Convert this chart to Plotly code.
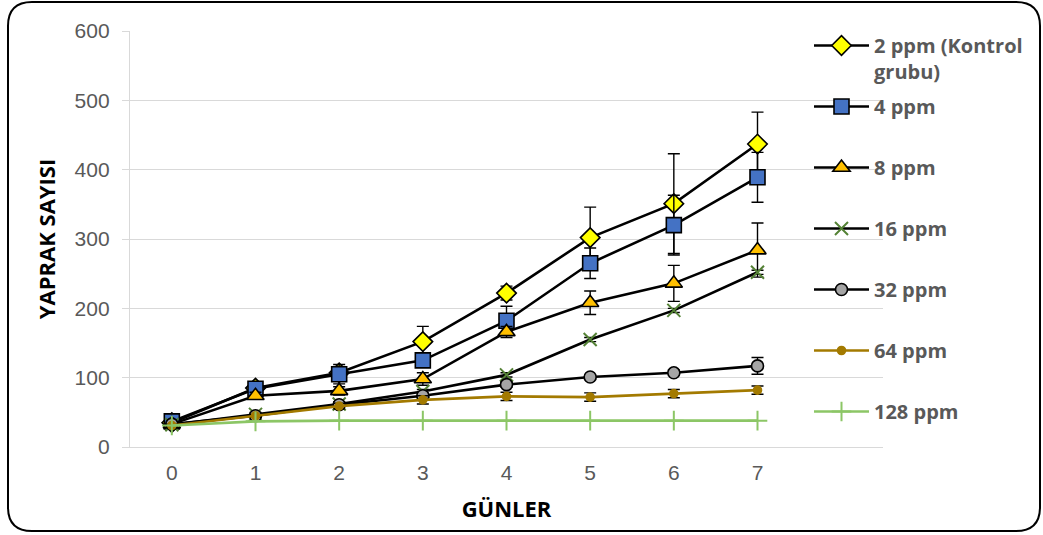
import plotly.graph_objects as go

# Days and leaf counts (mean ± error) for each concentration
days = [0, 1, 2, 3, 4, 5, 6, 7]

ppm2 = [35, 85, 107, 152, 222, 302, 351, 437]
ppm2_err = [3, 5, 5, 22, 10, 44, 72, 46]

ppm4 = [37, 84, 105, 125, 182, 265, 320, 389]
ppm4_err = [3, 8, 14, 6, 21, 22, 43, 36]

ppm8 = [33, 74, 81, 98, 166, 208, 236, 284]
ppm8_err = [3, 5, 6, 9, 8, 17, 26, 39]

ppm16 = [32, 47, 62, 80, 104, 155, 197, 252]
ppm16_err = [2, 3, 3, 3, 3, 3, 3, 3]

ppm32 = [33, 45, 61, 74, 90, 101, 107, 117]
ppm32_err = [2, 3, 4, 4, 4, 3, 4, 12]

ppm64 = [31, 45, 59, 68, 73, 72, 77, 82]
ppm64_err = [2, 2, 4, 6, 6, 6, 6, 6]

ppm128 = [31, 37, 38, 38, 38, 38, 38, 38]

y_ticks = [0, 100, 200, 300, 400, 500, 600]

W, H = 1043, 535
ML, MR, MT, MB = 130, 160, 31, 88
PW, PH = W - ML - MR, H - MT - MB


def px(x):
    return (x - ML) / PW


def py(y):
    return (H - MB - y) / PH


fig = go.Figure()


def add_series(name, y, err, symbol, size, fill, edge, line_color, legend):
    err_cfg = None
    if err is not None:
        err_cfg = dict(type="data", array=err, color="black", thickness=1.4, width=6)
    thin = symbol in ("x-thin", "cross-thin")
    fig.add_trace(go.Scatter(
        x=days, y=y, name=name, mode="lines+markers",
        line=dict(color=line_color, width=2.6),
        marker=dict(symbol=symbol, size=size, color=fill,
                    line=dict(color=edge, width=2 if thin else 1.6)),
        error_y=err_cfg, legend=legend, legendgroup=name,
    ))


add_series("2 ppm (Kontrol<br>grubu)", ppm2, ppm2_err, "diamond", 15, "#FFFF00", "black", "black", "legend")
add_series("4 ppm", ppm4, ppm4_err, "square", 15, "#4472C4", "black", "black", "legend2")
add_series("8 ppm", ppm8, ppm8_err, "triangle-up", 15, "#FFC000", "black", "black", "legend2")
add_series("16 ppm", ppm16, ppm16_err, "x-thin", 13, "#548235", "#548235", "black", "legend2")
add_series("32 ppm", ppm32, ppm32_err, "circle", 12, "#A5A5A5", "black", "black", "legend2")
add_series("64 ppm", ppm64, ppm64_err, "circle", 8, "#A37A00", "#A37A00", "#A37A00", "legend2")
add_series("128 ppm", ppm128, None, "cross-thin", 14, "#8CC666", "#8CC666", "#8CC666", "legend2")

legend_font = dict(family="Open Sans", size=20, color="#595959", weight="bold")

# Rounded outer frame of the chart, built in pixel space and mapped to paper
x0, y0, x1, y1, r = 8, 2, 1040, 531, 24
frame = (
    f"M {px(x0 + r)},{py(y0)} L {px(x1 - r)},{py(y0)} "
    f"Q {px(x1)},{py(y0)} {px(x1)},{py(y0 + r)} "
    f"L {px(x1)},{py(y1 - r)} Q {px(x1)},{py(y1)} {px(x1 - r)},{py(y1)} "
    f"L {px(x0 + r)},{py(y1)} Q {px(x0)},{py(y1)} {px(x0)},{py(y1 - r)} "
    f"L {px(x0)},{py(y0 + r)} Q {px(x0)},{py(y0)} {px(x0 + r)},{py(y0)} Z"
)

fig.update_layout(
    width=W, height=H,
    margin=dict(l=ML, r=MR, t=MT, b=MB),
    paper_bgcolor="white", plot_bgcolor="white",
    font=dict(family="Liberation Sans", color="#595959"),
    showlegend=True,
    legend=dict(x=px(809), y=py(26), xanchor="left", yanchor="top",
                font=legend_font, itemwidth=55, valign="top",
                bgcolor="rgba(0,0,0,0)", itemclick=False),
    legend2=dict(x=px(809), y=py(87), xanchor="left", yanchor="top",
                 font=legend_font, itemwidth=55, tracegroupgap=32,
                 bgcolor="rgba(0,0,0,0)", itemclick=False),
    shapes=[dict(type="path", xref="paper", yref="paper", path=frame,
                 line=dict(color="black", width=2), fillcolor="rgba(0,0,0,0)", layer="above")],
    xaxis=dict(
        range=[-0.5, 8.5], tickvals=days, ticktext=[str(d) for d in days],
        showgrid=False, zeroline=False, showline=True, linecolor="#D9D9D9", linewidth=1.3,
        ticks="", tickfont=dict(family="Liberation Sans", size=21, color="#595959"),
        ticklabelstandoff=7,
        title=dict(text="GÜNLER", standoff=18,
                   font=dict(family="Open Sans", size=22, color="black", weight="bold")),
    ),
    yaxis=dict(
        range=[0, 600], tickvals=y_ticks,
        showgrid=True, gridcolor="#D9D9D9", gridwidth=1.3, zeroline=False,
        showline=True, linecolor="#D9D9D9", linewidth=1.3,
        ticks="outside", ticklen=7, tickcolor="#D9D9D9", tickwidth=1.3,
        tickfont=dict(family="Liberation Sans", size=21, color="#595959"),
        ticklabelstandoff=8,
        title=dict(text="YAPRAK SAYISI", standoff=12,
                   font=dict(family="Open Sans", size=22, color="black", weight="bold")),
    ),
)

fig.write_html("out.html")
